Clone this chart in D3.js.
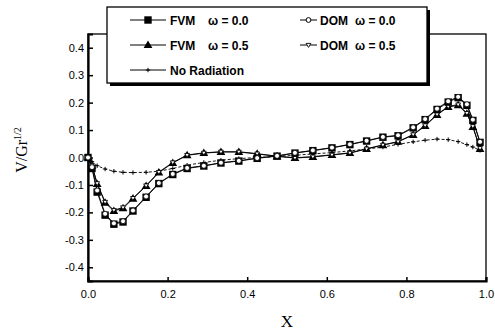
<!DOCTYPE html>
<html>
<head>
<meta charset="utf-8">
<script src="https://cdn.jsdelivr.net/npm/d3@7"></script>
<style>
  body { margin: 0; background: #fff; }
  svg { display: block; }
</style>
</head>
<body>
<div id="app"></div>
<script>
// x positions of the grid nodes
const xs = [0, 0.01, 0.023, 0.043, 0.065, 0.088, 0.113, 0.146, 0.178, 0.213, 0.249, 0.291, 0.334, 0.379, 0.425, 0.475,
  0.52, 0.565, 0.613, 0.658, 0.70, 0.741, 0.779, 0.817, 0.847, 0.877, 0.905, 0.930, 0.952, 0.967, 0.985];
// FVM w=0.0 (filled squares)
const fvm0 = [0, -0.04, -0.126, -0.21, -0.243, -0.235, -0.195, -0.145, -0.095, -0.062, -0.04, -0.031, -0.02, -0.013, -0.003, 0.005,
  0.016, 0.025, 0.035, 0.047, 0.06, 0.074, 0.079, 0.108, 0.138, 0.175, 0.202, 0.218, 0.19, 0.135, 0.055];
// DOM w=0.0 (open circles)
const dom0 = [0, -0.035, -0.12, -0.205, -0.24, -0.232, -0.193, -0.142, -0.093, -0.06, -0.038, -0.03, -0.019, -0.012, -0.002, 0.006,
  0.017, 0.026, 0.036, 0.048, 0.061, 0.075, 0.081, 0.11, 0.14, 0.178, 0.205, 0.221, 0.194, 0.138, 0.057];
// FVM w=0.5 (filled triangles)
const fvm5 = [0, -0.03, -0.097, -0.165, -0.195, -0.185, -0.15, -0.104, -0.055, -0.02, 0.008, 0.016, 0.02, 0.02, 0.013, 0.004,
  -0.002, 0.002, 0.009, 0.016, 0.031, 0.045, 0.057, 0.082, 0.115, 0.155, 0.184, 0.19, 0.159, 0.111, 0.031];
// DOM w=0.5 (open inverted triangles)
const dom5 = [0, -0.028, -0.094, -0.162, -0.192, -0.182, -0.148, -0.102, -0.053, -0.018, 0.009, 0.017, 0.021, 0.021, 0.014, 0.005,
  -0.001, 0.003, 0.01, 0.017, 0.032, 0.046, 0.058, 0.084, 0.117, 0.157, 0.186, 0.193, 0.162, 0.114, 0.034];
// no radiation (+)
const noRad = [0, -0.015, -0.03, -0.042, -0.05, -0.054, -0.055, -0.054, -0.05, -0.04, -0.028, -0.018, -0.01, -0.004, 0, 0.004,
  0.008, 0.013, 0.018, 0.024, 0.031, 0.038, 0.048, 0.057, 0.063, 0.067, 0.065, 0.058, 0.047, 0.038, 0.026];

const xTicks = [0, 0.2, 0.4, 0.6, 0.8, 1.0];
const yTicks = [-0.4, -0.3, -0.2, -0.1, 0.0, 0.1, 0.2, 0.3, 0.4];

const W = 495, H = 333;
const x = d3.scaleLinear().domain([0, 1]).range([88, 486]);
const y = d3.scaleLinear().domain([-0.45, 0.45]).range([281, 34]);

const svg = d3.select('#app').append('svg').attr('width', W).attr('height', H);
const font = 'Liberation Sans, Arial, sans-serif';

// frame
svg.append('rect').attr('x', 88).attr('y', 34).attr('width', 398).attr('height', 247)
  .attr('fill', 'none').attr('stroke', '#000').attr('stroke-width', 1.3);

// axes with inward ticks
const xAxis = svg.append('g').attr('transform', 'translate(0,281)')
  .call(d3.axisBottom(x).tickValues(xTicks).tickSize(-4).tickPadding(9).tickFormat(d => d.toFixed(1)));
const yAxis = svg.append('g').attr('transform', 'translate(88,0)')
  .call(d3.axisLeft(y).tickValues(yTicks).tickSize(-5).tickPadding(4).tickFormat(d => d.toFixed(1)));
[xAxis, yAxis].forEach(a => {
  a.select('.domain').attr('stroke', '#000').attr('stroke-width', 2.2);
  a.selectAll('.tick line').attr('stroke', '#000').attr('stroke-width', 1.5);
  a.selectAll('.tick text').attr('fill', '#000').attr('font-family', font).attr('font-size', '11px');
});

// series
const pts = v => xs.map((d, i) => [x(d), y(v[i])]);
const line = d3.line();
const g = svg.append('g');
g.append('path').attr('d', line(pts(noRad))).attr('fill', 'none').attr('stroke', '#000')
  .attr('stroke-width', 0.9).attr('stroke-dasharray', '3,2');
[fvm0, dom0, fvm5, dom5].forEach(v => {
  g.append('path').attr('d', line(pts(v))).attr('fill', 'none').attr('stroke', '#000').attr('stroke-width', 0.9);
});

const plus = (sel, px, py) => sel.append('path')
  .attr('d', `M${px - 2.2},${py}H${px + 2.2}M${px},${py - 2.2}V${py + 2.2}`)
  .attr('stroke', '#000').attr('stroke-width', 1);
const square = (sel, px, py) => sel.append('rect').attr('x', px - 3.7).attr('y', py - 3.7)
  .attr('width', 7.4).attr('height', 7.4).attr('fill', '#000');
const circle = (sel, px, py) => sel.append('circle').attr('cx', px).attr('cy', py).attr('r', 2.5)
  .attr('fill', '#fff').attr('stroke', '#000').attr('stroke-width', 0.8);
const tri = (sel, px, py) => sel.append('path')
  .attr('d', `M${px},${py - 4.6}L${px + 4.4},${py + 3}L${px - 4.4},${py + 3}Z`).attr('fill', '#000');
const itri = (sel, px, py) => sel.append('path')
  .attr('d', `M${px - 2.4},${py - 1.6}L${px + 2.4},${py - 1.6}L${px},${py + 2.4}Z`)
  .attr('fill', '#fff').attr('stroke', '#000').attr('stroke-width', 0.9);

pts(noRad).forEach(p => plus(g, p[0], p[1]));
pts(fvm5).forEach(p => tri(g, p[0], p[1]));
pts(dom5).forEach(p => itri(g, p[0], p[1]));
pts(fvm0).forEach(p => square(g, p[0], p[1]));
pts(dom0).forEach(p => circle(g, p[0], p[1]));

// legend box with drop shadow
const lg = svg.append('g');
lg.append('rect').attr('x', 110).attr('y', 10).attr('width', 320).attr('height', 76).attr('fill', '#000');
lg.append('rect').attr('x', 107).attr('y', 7).attr('width', 320).attr('height', 76)
  .attr('fill', '#fff').attr('stroke', '#000').attr('stroke-width', 1.3);

const legendItems = [
  { lx: 130, rx: 166, cy: 20, mark: square, name: 'FVM', w: 'ω = 0.0', tx: 170, wx: 208 },
  { lx: 130, rx: 166, cy: 45, mark: tri, name: 'FVM', w: 'ω = 0.5', tx: 170, wx: 208 },
  { lx: 130, rx: 166, cy: 70, mark: plus, name: 'No Radiation', w: '', tx: 170, wx: 0 },
  { lx: 300, rx: 317, cy: 20, mark: (s, a, b) => s.append('circle').attr('cx', a).attr('cy', b).attr('r', 2.4)
      .attr('fill', '#fff').attr('stroke', '#000').attr('stroke-width', 1), name: 'DOM', w: 'ω = 0.0', tx: 320, wx: 355 },
  { lx: 300, rx: 317, cy: 45, mark: itri, name: 'DOM', w: 'ω = 0.5', tx: 320, wx: 355 }
];
legendItems.forEach(it => {
  lg.append('line').attr('x1', it.lx).attr('x2', it.rx).attr('y1', it.cy).attr('y2', it.cy)
    .attr('stroke', '#000').attr('stroke-width', 1);
  it.mark(lg, (it.lx + it.rx) / 2, it.cy);
  lg.append('text').attr('x', it.tx).attr('y', it.cy + 4.5).attr('font-family', font)
    .attr('font-size', '12px').attr('font-weight', 'bold').attr('fill', '#000').text(it.name);
  if (it.w) {
    lg.append('text').attr('x', it.wx).attr('y', it.cy + 4.5).attr('font-family', font)
      .attr('font-size', '12px').attr('font-weight', 'bold').attr('fill', '#000').text(it.w);
  }
});

// axis titles
svg.append('text').attr('x', 287).attr('y', 327).attr('text-anchor', 'middle')
  .attr('font-family', 'Liberation Serif, Times New Roman, serif').attr('font-size', '17px').text('X');
const yt = svg.append('text').attr('transform', 'translate(27,150) rotate(-90)').attr('text-anchor', 'middle')
  .attr('font-family', 'Liberation Serif, Times New Roman, serif').attr('font-size', '16px');
yt.append('tspan').text('V/Gr');
yt.append('tspan').attr('dy', -6).attr('font-size', '10px').text('1/2');
</script>
</body>
</html>
